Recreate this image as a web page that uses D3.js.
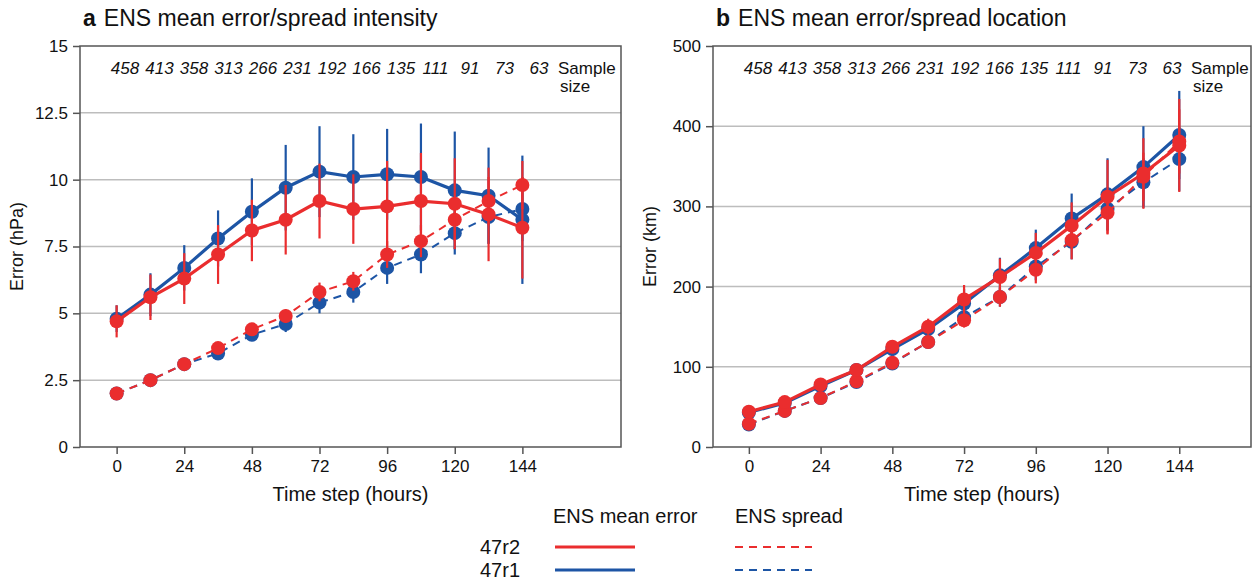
<!DOCTYPE html>
<html>
<head>
<meta charset="utf-8">
<script src="https://cdn.jsdelivr.net/npm/d3@7"></script>
<style>
  body { margin: 0; background: #fff; }
  svg { font-family: "Liberation Sans", Arial, Helvetica, sans-serif; }
</style>
</head>
<body>
<svg id="chart" width="1253" height="581"></svg>
<script>
// time steps and sample sizes
const hours = [0, 12, 24, 36, 48, 60, 72, 84, 96, 108, 120, 132, 144];
const sampleSize = [458, 413, 358, 313, 266, 231, 192, 166, 135, 111, 91, 73, 63];
const xTicks = [0, 24, 48, 72, 96, 120, 144];

// panel a: intensity (hPa)
const intTicks = [0, 2.5, 5, 7.5, 10, 12.5, 15];
const intErr47r2 = [4.7, 5.6, 6.3, 7.2, 8.1, 8.5, 9.2, 8.9, 9.0, 9.2, 9.1, 8.7, 8.2];
const intErr47r2Bar = [0.6, 0.85, 0.95, 1.1, 1.15, 1.3, 1.4, 1.3, 1.7, 1.8, 1.7, 1.75, 1.9];
const intErr47r1 = [4.8, 5.7, 6.7, 7.8, 8.8, 9.7, 10.3, 10.1, 10.2, 10.1, 9.6, 9.4, 8.5];
const intErr47r1Bar = [0.5, 0.8, 0.85, 1.05, 1.25, 1.6, 1.7, 1.6, 1.7, 2.0, 2.2, 1.8, 2.4];
const intSpr47r2 = [2.0, 2.5, 3.1, 3.7, 4.4, 4.9, 5.8, 6.2, 7.2, 7.7, 8.5, 9.2, 9.8];
const intSpr47r2Bar = [0.05, 0.1, 0.1, 0.15, 0.15, 0.25, 0.35, 0.35, 0.5, 0.6, 0.8, 0.9, 0.9];
const intSpr47r1 = [2.0, 2.5, 3.1, 3.5, 4.2, 4.6, 5.4, 5.8, 6.7, 7.2, 8.0, 8.6, 8.9];
const intSpr47r1Bar = [0.05, 0.1, 0.1, 0.15, 0.15, 0.3, 0.4, 0.4, 0.6, 0.7, 0.8, 1.0, 1.2];

// panel b: location (km)
const locTicks = [0, 100, 200, 300, 400, 500];
const locErr47r2 = [44, 56, 78, 96, 125, 150, 184, 212, 242, 276, 312, 341, 376];
const locErr47r2Bar = [3, 4, 5, 6, 8, 10, 18, 23, 25, 29, 46, 44, 58];
const locErr47r1 = [43, 55, 76, 96, 122, 147, 179, 214, 248, 285, 315, 349, 389];
const locErr47r1Bar = [3, 4, 5, 6, 8, 10, 18, 22, 23, 31, 45, 51, 55];
const locSpr47r2 = [29, 45, 61, 82, 105, 131, 158, 187, 221, 258, 292, 337, 381];
const locSpr47r2Bar = [2, 3, 4, 5, 6, 7, 9, 12, 17, 24, 27, 30, 40];
const locSpr47r1 = [28, 45, 61, 81, 104, 131, 162, 187, 225, 256, 297, 330, 359];
const locSpr47r1Bar = [2, 3, 4, 5, 6, 7, 9, 12, 17, 22, 27, 30, 40];

const RED = "#ea2d2e";
const BLUE = "#1d55a5";
const AXIS = "#555";
const GRID = "#bdbdbd";

const svg = d3.select("#chart");

function drawPanel(p) {
  const top = 46, bottom = 447;
  const x = d3.scaleLinear().domain(p.xDomain).range([p.left, p.right]);
  const y = d3.scaleLinear().domain(p.yDomain).range([bottom, top]);
  // sample size row is typed at an even spacing, not on the data points
  const sx = d3.scalePoint().domain(d3.range(sampleSize.length)).range([p.left + 45, p.left + 459]);
  const g = svg.append("g");

  // gridlines
  g.append("g").selectAll("line")
    .data(p.yTicks.slice(1, -1))
    .join("line")
      .attr("x1", p.left).attr("x2", p.right)
      .attr("y1", d => y(d)).attr("y2", d => y(d))
      .attr("stroke", GRID).attr("stroke-width", 1.5);

  // y axis
  g.append("g")
    .attr("transform", `translate(${p.left},0)`)
    .call(d3.axisLeft(y).tickValues(p.yTicks).tickSize(7).tickPadding(5).tickFormat(d => d))
    .call(a => a.select(".domain").remove())
    .call(a => a.selectAll("line").attr("stroke", AXIS).attr("stroke-width", 1.5))
    .call(a => a.selectAll("text").attr("font-size", 17).attr("fill", "#111").attr("font-family", null));

  // x axis
  g.append("g")
    .attr("transform", `translate(0,${bottom})`)
    .call(d3.axisBottom(x).tickValues(xTicks).tickSize(7).tickPadding(6))
    .call(a => a.select(".domain").remove())
    .call(a => a.selectAll("line").attr("stroke", AXIS).attr("stroke-width", 1.5))
    .call(a => a.selectAll("text").attr("font-size", 17).attr("fill", "#111").attr("font-family", null));

  // frame
  g.append("rect")
    .attr("x", p.left).attr("y", top)
    .attr("width", p.right - p.left).attr("height", bottom - top)
    .attr("fill", "none").attr("stroke", AXIS).attr("stroke-width", 1.5);

  // sample sizes
  g.append("g").selectAll("text")
    .data(sampleSize)
    .join("text")
      .attr("x", (d, i) => sx(i))
      .attr("y", 74)
      .attr("text-anchor", "middle")
      .attr("font-size", 17).attr("font-style", "italic").attr("fill", "#111")
      .text(d => d);
  g.append("text")
    .attr("x", sx(12) + 19).attr("y", 74)
    .attr("font-size", 17).attr("fill", "#111")
    .text("Sample");
  g.append("text")
    .attr("x", sx(12) + 21).attr("y", 92)
    .attr("font-size", 17).attr("fill", "#111")
    .text("size");

  // series
  p.series.forEach(s => {
    const pts = hours.map((h, i) => ({ h, v: s.values[i], e: s.err[i] }));
    const sg = g.append("g");
    sg.selectAll("line.bar")
      .data(pts)
      .join("line")
        .attr("class", "bar")
        .attr("x1", d => x(d.h)).attr("x2", d => x(d.h))
        .attr("y1", d => y(d.v - d.e)).attr("y2", d => y(d.v + d.e))
        .attr("stroke", s.color).attr("stroke-width", 2.2);
    sg.append("path")
      .datum(pts)
      .attr("fill", "none")
      .attr("stroke", s.color)
      .attr("stroke-width", s.dashed ? 2 : 3.2)
      .attr("stroke-dasharray", s.dashed ? "8,6" : null)
      .attr("d", d3.line().x(d => x(d.h)).y(d => y(d.v)));
    sg.selectAll("circle")
      .data(pts)
      .join("circle")
        .attr("cx", d => x(d.h)).attr("cy", d => y(d.v))
        .attr("r", 7)
        .attr("fill", s.color);
  });

  // titles
  const t = g.append("text").attr("x", p.left + 3).attr("y", 26).attr("font-size", 23).attr("fill", "#111");
  t.append("tspan").attr("font-weight", "bold").text(p.letter);
  t.append("tspan").attr("dx", 8).text(p.title);

  g.append("text")
    .attr("x", (p.left + p.right) / 2).attr("y", 501)
    .attr("text-anchor", "middle")
    .attr("font-size", 20).attr("fill", "#111")
    .text("Time step (hours)");

  g.append("text")
    .attr("transform", `translate(${p.left - 57},${(top + bottom) / 2}) rotate(-90)`)
    .attr("text-anchor", "middle")
    .attr("font-size", 18).attr("fill", "#111")
    .text(p.yLabel);
}

drawPanel({
  left: 80, right: 621, xDomain: [-13, 179], letter: "a", title: "ENS mean error/spread intensity",
  yDomain: [0, 15], yTicks: intTicks, yLabel: "Error (hPa)",
  series: [
    { values: intSpr47r1, err: intSpr47r1Bar, color: BLUE, dashed: true },
    { values: intErr47r1, err: intErr47r1Bar, color: BLUE, dashed: false },
    { values: intSpr47r2, err: intSpr47r2Bar, color: RED, dashed: true },
    { values: intErr47r2, err: intErr47r2Bar, color: RED, dashed: false }
  ]
});

drawPanel({
  left: 713, right: 1251, xDomain: [-12, 168], letter: "b", title: "ENS mean error/spread location",
  yDomain: [0, 500], yTicks: locTicks, yLabel: "Error (km)",
  series: [
    { values: locSpr47r1, err: locSpr47r1Bar, color: BLUE, dashed: true },
    { values: locErr47r1, err: locErr47r1Bar, color: BLUE, dashed: false },
    { values: locSpr47r2, err: locSpr47r2Bar, color: RED, dashed: true },
    { values: locErr47r2, err: locErr47r2Bar, color: RED, dashed: false }
  ]
});

// legend
const legend = svg.append("g").attr("font-size", 20).attr("fill", "#111");
legend.append("text").attr("x", 553).attr("y", 523).text("ENS mean error");
legend.append("text").attr("x", 735).attr("y", 523).text("ENS spread");
const legendRows = [
  { name: "47r2", color: RED, y: 547 },
  { name: "47r1", color: BLUE, y: 570 }
];
legendRows.forEach(r => {
  legend.append("text").attr("x", 480).attr("y", r.y + 7).text(r.name);
  legend.append("line").attr("x1", 555).attr("x2", 635).attr("y1", r.y).attr("y2", r.y)
    .attr("stroke", r.color).attr("stroke-width", 3.2);
  legend.append("line").attr("x1", 735).attr("x2", 812).attr("y1", r.y).attr("y2", r.y)
    .attr("stroke", r.color).attr("stroke-width", 2).attr("stroke-dasharray", "8,6");
});
</script>
</body>
</html>
